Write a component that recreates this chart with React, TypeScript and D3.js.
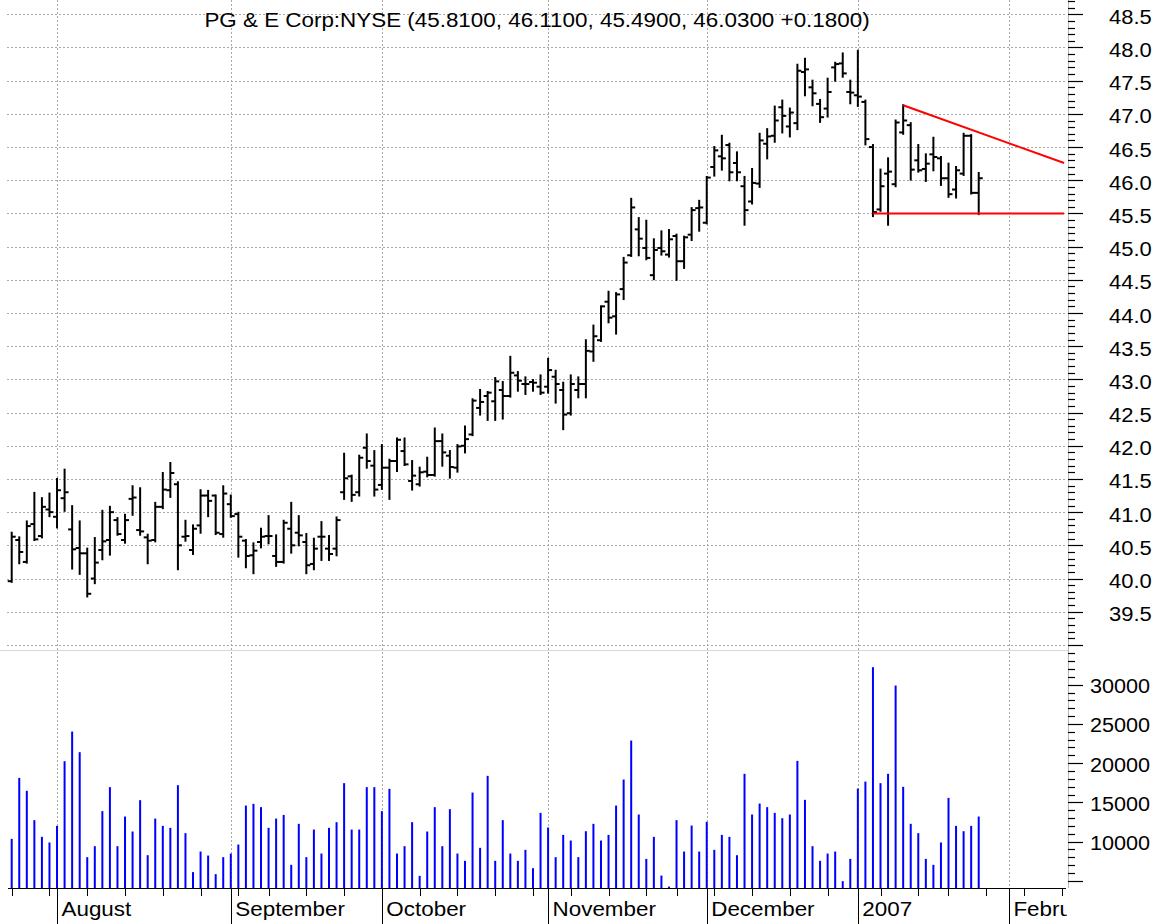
import React, { useEffect, useRef } from "react";
import * as d3 from "d3";

const dates = [
  "2006-07-24","2006-07-25","2006-07-26","2006-07-27","2006-07-28","2006-07-31",
  "2006-08-01","2006-08-02","2006-08-03","2006-08-04","2006-08-07","2006-08-08","2006-08-09","2006-08-10","2006-08-11",
  "2006-08-14","2006-08-15","2006-08-16","2006-08-17","2006-08-18","2006-08-21","2006-08-22","2006-08-23","2006-08-24",
  "2006-08-25","2006-08-28","2006-08-29","2006-08-30","2006-08-31",
  "2006-09-01","2006-09-05","2006-09-06","2006-09-07","2006-09-08","2006-09-11","2006-09-12","2006-09-13","2006-09-14",
  "2006-09-15","2006-09-18","2006-09-19","2006-09-20","2006-09-21","2006-09-22","2006-09-25","2006-09-26","2006-09-27",
  "2006-09-28","2006-09-29",
  "2006-10-02","2006-10-03","2006-10-04","2006-10-05","2006-10-06","2006-10-09","2006-10-10","2006-10-11","2006-10-12",
  "2006-10-13","2006-10-16","2006-10-17","2006-10-18","2006-10-19","2006-10-20","2006-10-23","2006-10-24","2006-10-25",
  "2006-10-26","2006-10-27","2006-10-30","2006-10-31",
  "2006-11-01","2006-11-02","2006-11-03","2006-11-06","2006-11-07","2006-11-08","2006-11-09","2006-11-10","2006-11-13",
  "2006-11-14","2006-11-15","2006-11-16","2006-11-17","2006-11-20","2006-11-21","2006-11-22","2006-11-24","2006-11-27",
  "2006-11-28","2006-11-29","2006-11-30",
  "2006-12-01","2006-12-04","2006-12-05","2006-12-06","2006-12-07","2006-12-08","2006-12-11","2006-12-12","2006-12-13",
  "2006-12-14","2006-12-15","2006-12-18","2006-12-19","2006-12-20","2006-12-21","2006-12-22","2006-12-26","2006-12-27",
  "2006-12-28","2006-12-29",
  "2007-01-03","2007-01-04","2007-01-05","2007-01-08","2007-01-09","2007-01-10","2007-01-11","2007-01-12","2007-01-16",
  "2007-01-17","2007-01-18","2007-01-19","2007-01-22","2007-01-23","2007-01-24","2007-01-25","2007-01-26"
];

const futureDates = [
  "2007-01-29","2007-01-30","2007-01-31","2007-02-01","2007-02-02","2007-02-05","2007-02-06","2007-02-07",
  "2007-02-08","2007-02-09","2007-02-12"
];

const open = [
  39.96,40.58,40.25,40.82,40.64,41.04,40.93,41.21,40.74,40.46,40.38,40.00,40.43,40.58,40.88,40.58,41.20,40.73,40.62,40.58,
  41.08,41.33,41.42,40.63,40.43,40.80,41.25,41.25,40.67,41.12,40.97,40.57,40.35,40.55,40.64,40.34,40.25,40.75,40.69,40.55,
  40.22,40.63,40.45,40.45,41.30,41.54,41.30,41.97,41.70,41.41,41.67,41.77,41.92,41.47,41.42,41.61,41.56,42.07,41.85,41.67,
  42.00,42.17,42.57,42.75,42.67,42.84,42.75,43.06,42.93,42.96,42.89,42.89,43.04,42.84,42.49,42.84,42.93,43.42,43.59,44.17,
  43.95,44.36,44.87,45.26,44.98,44.57,44.98,44.88,45.16,44.78,45.18,45.58,45.36,46.20,46.36,46.53,46.26,45.91,45.68,45.95,
  46.55,46.67,47.10,46.81,46.86,47.63,47.40,47.15,47.08,47.70,47.76,47.33,47.28,47.18,46.50,45.56,46.10,45.94,46.72,46.83,
  46.30,46.17,46.39,46.33,46.03,45.86,46.10,46.67,45.81
];
const high = [
  40.69,40.62,40.86,41.29,41.21,41.28,41.50,41.64,41.09,40.86,40.45,40.61,41.02,41.08,40.91,40.96,41.39,41.36,40.66,41.14,
  41.59,41.74,41.45,40.87,40.80,41.33,41.32,41.25,41.39,41.25,40.99,40.58,40.53,40.75,40.94,40.65,40.87,41.14,40.94,40.67,
  40.60,40.85,40.64,40.92,41.88,41.55,41.85,42.17,41.92,42.01,41.79,42.11,42.11,41.77,41.67,41.82,42.26,42.17,41.92,42.01,
  42.29,42.70,42.84,42.81,43.02,42.96,43.34,43.11,43.03,42.99,43.06,43.31,43.13,42.95,43.06,43.03,43.59,43.81,44.10,44.32,
  44.30,44.83,45.72,45.43,45.39,45.11,45.23,45.25,45.18,45.15,45.58,45.69,46.05,46.50,46.67,46.55,46.42,46.05,46.17,46.70,
  46.77,47.11,47.20,47.08,47.74,47.83,47.50,47.21,47.53,47.77,47.91,47.50,47.95,47.20,46.53,46.16,46.33,46.90,47.13,46.86,
  46.53,46.39,46.64,46.35,46.25,46.20,46.70,46.68,46.11
];
const low = [
  39.95,40.23,40.24,40.58,40.62,40.94,40.77,41.02,40.15,40.07,39.73,39.93,40.29,40.36,40.66,40.54,40.96,40.66,40.23,40.56,
  41.06,41.23,40.14,40.57,40.37,40.69,40.94,40.67,40.63,40.93,40.33,40.17,40.08,40.47,40.53,40.19,40.24,40.39,40.50,40.08,
  40.14,40.28,40.28,40.35,41.20,41.17,41.25,41.67,41.25,41.35,41.20,41.62,41.71,41.34,41.40,41.54,41.55,41.70,41.52,41.61,
  41.90,42.16,42.47,42.39,42.39,42.41,42.74,42.83,42.78,42.83,42.78,42.80,42.65,42.25,42.47,42.73,42.73,43.28,43.58,43.86,
  43.69,44.21,44.86,44.87,44.81,44.51,44.88,44.85,44.50,44.68,45.10,45.24,45.35,46.07,46.16,46.00,46.00,45.33,45.65,45.90,
  46.33,46.58,46.72,46.66,46.77,47.28,47.13,46.88,46.96,47.50,47.56,47.16,47.12,46.54,45.46,45.54,45.33,45.91,46.70,46.01,
  46.13,45.99,46.15,45.93,45.75,45.74,46.08,45.80,45.49
];
const close = [
  40.63,40.40,40.79,40.59,41.08,41.00,41.33,41.30,40.44,40.38,39.77,40.24,40.56,41.00,40.67,40.88,41.22,40.71,40.57,41.08,
  41.34,41.59,40.50,40.64,40.75,41.25,41.17,40.69,41.28,40.94,40.63,40.34,40.42,40.63,40.64,40.25,40.84,40.50,40.65,40.20,
  40.45,40.63,40.37,40.88,41.51,41.26,41.82,41.77,41.34,41.67,41.77,42.09,41.72,41.55,41.60,41.56,42.07,41.90,41.68,41.99,
  42.10,42.68,42.66,42.80,42.97,42.75,43.10,42.98,42.93,42.95,42.80,43.14,42.93,42.47,42.93,42.93,43.43,43.65,44.10,43.93,
  44.28,44.76,45.59,45.12,44.83,44.95,44.93,45.11,44.78,45.14,45.55,45.59,46.04,46.45,46.33,46.12,46.12,45.55,45.96,46.60,
  46.66,46.90,46.97,47.02,47.65,47.67,47.31,46.95,47.33,47.75,47.61,47.32,47.26,46.62,45.52,45.91,46.13,46.87,46.90,46.16,
  46.15,46.25,46.35,46.03,45.79,46.15,46.67,45.81,46.03
];
const volume = [
  10345,18125,16470,12730,10600,9880,12000,20250,24030,21400,8010,9410,13880,16940,9410,13190,11280,15280,8260,12930,
  12000,11750,17190,11070,6100,8725,8215,5840,8010,8470,9620,14590,14810,14390,11750,12930,13400,7030,12260,8010,
  11530,8470,11750,12470,17450,11530,11530,16940,16940,13880,16720,8470,9410,12470,5625,11280,14390,9410,14130,8470,
  7540,16250,9200,18380,7540,12730,8470,7540,8940,6600,13660,11790,8010,10850,10130,8010,11320,12260,10130,10850,
  14590,17910,22880,13450,7790,10600,5660,4260,12730,8725,12040,8725,12520,8940,10850,10600,8260,18640,13450,14850,
  14390,13660,12980,13450,20290,15320,9410,7540,8470,8725,4950,7790,16760,17650,32240,17450,18640,29900,16980,12260,
  11070,7790,7030,9880,15570,12000,11320,12000,13190
];

const monthLabels = ["August", "September", "October", "November", "December", "2007", "February"];
const priceMajorTicks = [39.0,39.5,40.0,40.5,41.0,41.5,42.0,42.5,43.0,43.5,44.0,44.5,45.0,45.5,46.0,46.5,47.0,47.5,48.0,48.5];
const priceLabelTicks = [39.5,40.0,40.5,41.0,41.5,42.0,42.5,43.0,43.5,44.0,44.5,45.0,45.5,46.0,46.5,47.0,47.5,48.0,48.5];
const volumeLabelTicks = [10000,15000,20000,25000,30000];
const titleText = "PG & E Corp:NYSE (45.8100, 46.1100, 45.4900, 46.0300 +0.1800)";
// trend lines: [index, price]
const resistanceLine = [[118, 47.13], [139.3, 46.26]];
const supportLine = [[114, 45.5], [139.3, 45.5]];

const W = 1166;
const H = 924;
const FONT = "'Liberation Sans', Arial, Helvetica, sans-serif";

export default function App() {
  const ref = useRef<SVGSVGElement>(null);

  useEffect(() => {
    const svg = d3.select(ref.current);
    svg.selectAll("*").remove();

    const x = d3.scaleLinear().domain([0, 139.5]).range([11.7, 1065.6]);
    const yP = d3.scaleLinear().domain([39, 48.5]).range([644.9, 14.3]);
    const yV = d3.scaleLinear().domain([4000, 34000]).range([888.6, 653.4]);
    const axisX = 1068;
    const baseY = 888;
    const plotLeft = 7;
    const plotRight = 1066;

    const allDates = dates.concat(futureDates).map((s) => new Date(s + "T12:00:00"));
    const monthStarts: number[] = [];
    const weekStarts: number[] = [];
    allDates.forEach((d, i) => {
      if (i === 0 || d.getDay() < allDates[i - 1].getDay()) weekStarts.push(i);
      if (i > 0 && d.getMonth() !== allDates[i - 1].getMonth()) monthStarts.push(i);
    });

    const defs = svg.append("defs");
    defs.append("clipPath").attr("id", "plotclip")
      .append("rect").attr("x", 0).attr("y", 0).attr("width", axisX - 1).attr("height", H);

    const stretch = (sel: any, f: number) => {
      sel.each(function (this: SVGTextElement) {
        const w = this.getComputedTextLength();
        d3.select(this).attr("textLength", w * f).attr("lengthAdjust", "spacingAndGlyphs");
      });
    };

    // horizontal price gridlines
    svg.append("g").selectAll("line").data(priceMajorTicks).join("line")
      .attr("x1", plotLeft).attr("x2", plotRight)
      .attr("y1", (d) => Math.round(yP(d)) + 0.5).attr("y2", (d) => Math.round(yP(d)) + 0.5)
      .attr("stroke", "#a8a8a8").attr("stroke-width", 1).attr("stroke-dasharray", "2,2");

    // vertical month gridlines
    svg.append("g").selectAll("line").data(monthStarts).join("line")
      .attr("x1", (d) => Math.round(x(d)) + 0.5).attr("x2", (d) => Math.round(x(d)) + 0.5)
      .attr("y1", 0).attr("y2", baseY)
      .attr("stroke", "#a8a8a8").attr("stroke-width", 1).attr("stroke-dasharray", "2,2");

    // panel separator
    svg.append("line").attr("x1", 0).attr("x2", axisX).attr("y1", 650.5).attr("y2", 650.5)
      .attr("stroke", "#d8d8d8").attr("stroke-width", 1);

    // right axis line
    svg.append("line").attr("x1", axisX + 0.5).attr("x2", axisX + 0.5).attr("y1", 0).attr("y2", baseY)
      .attr("stroke", "#b8b8b8").attr("stroke-width", 1);

    // price axis ticks
    const minorP = d3.range(390, 488).map((v) => v / 10);
    svg.append("g").selectAll("line").data(minorP).join("line")
      .attr("x1", axisX).attr("x2", (d) => (Math.abs(d * 2 - Math.round(d * 2)) < 1e-6 ? axisX + 15 : axisX + 7))
      .attr("y1", (d) => Math.round(yP(d)) + 0.5).attr("y2", (d) => Math.round(yP(d)) + 0.5)
      .attr("stroke", "#000").attr("stroke-width", 1.2);

    const pl = svg.append("g").selectAll("text").data(priceLabelTicks).join("text")
      .attr("x", 1109).attr("y", (d) => yP(d) + 9.5)
      .attr("font-family", FONT).attr("font-size", 20).attr("fill", "#000")
      .text((d) => d.toFixed(1));
    stretch(pl, 1.1);

    // volume axis ticks
    const minorV = d3.range(5000, 34001, 1000);
    svg.append("g").selectAll("line").data(minorV).join("line")
      .attr("x1", axisX).attr("x2", (d) => (d % 5000 === 0 ? axisX + 15 : axisX + 7))
      .attr("y1", (d) => Math.round(yV(d)) + 0.5).attr("y2", (d) => Math.round(yV(d)) + 0.5)
      .attr("stroke", "#000").attr("stroke-width", 1.2);

    const vl = svg.append("g").selectAll("text").data(volumeLabelTicks).join("text")
      .attr("x", 1090).attr("y", (d) => yV(d) + 8.5)
      .attr("font-family", FONT).attr("font-size", 20).attr("fill", "#000")
      .text((d) => String(d));
    stretch(vl, 1.08);

    // volume bars
    svg.append("g").selectAll("rect").data(volume).join("rect")
      .attr("x", (_d, i) => x(i) - 1).attr("width", 2)
      .attr("y", (d) => yV(d)).attr("height", (d) => baseY - yV(d))
      .attr("fill", "#0000ff");

    // OHLC bars
    const bars = svg.append("g").attr("stroke", "#000").attr("stroke-width", 2);
    dates.forEach((_d, i) => {
      const cx = x(i);
      bars.append("line").attr("x1", cx).attr("x2", cx).attr("y1", yP(high[i]) - 1).attr("y2", yP(low[i]) + 1);
      bars.append("line").attr("x1", cx - 4).attr("x2", cx).attr("y1", yP(open[i])).attr("y2", yP(open[i]));
      bars.append("line").attr("x1", cx).attr("x2", cx + 4).attr("y1", yP(close[i])).attr("y2", yP(close[i]));
    });

    // red trend lines
    const line = d3.line<number[]>().x((d) => x(d[0])).y((d) => yP(d[1]));
    [resistanceLine, supportLine].forEach((ln) => {
      svg.append("path").attr("d", line(ln as any) as string)
        .attr("fill", "none").attr("stroke", "#ff0000").attr("stroke-width", 2);
    });

    // x axis
    svg.append("line").attr("x1", 8).attr("x2", plotRight).attr("y1", baseY + 0.5).attr("y2", baseY + 0.5)
      .attr("stroke", "#000").attr("stroke-width", 1);
    svg.append("g").selectAll("line").data(weekStarts.filter((i) => x(i) <= plotRight + 1)).join("line")
      .attr("x1", (d) => Math.round(x(d)) + 0.5).attr("x2", (d) => Math.round(x(d)) + 0.5)
      .attr("y1", baseY).attr("y2", baseY + 8)
      .attr("stroke", "#000").attr("stroke-width", 1);
    svg.append("g").selectAll("line").data(monthStarts).join("line")
      .attr("x1", (d) => Math.round(x(d)) + 0.5).attr("x2", (d) => Math.round(x(d)) + 0.5)
      .attr("y1", baseY).attr("y2", H)
      .attr("stroke", "#000").attr("stroke-width", 1);

    const ml = svg.append("g").attr("clip-path", "url(#plotclip)").selectAll("text").data(monthStarts).join("text")
      .attr("x", (d) => x(d) + 4.5).attr("y", 916)
      .attr("font-family", FONT).attr("font-size", 20).attr("fill", "#000")
      .text((_d, i) => monthLabels[i]);
    stretch(ml, 1.12);

    // title
    const t = svg.append("text").attr("x", 537).attr("y", 27).attr("text-anchor", "middle")
      .attr("font-family", FONT).attr("font-size", 20).attr("fill", "#000").text(titleText);
    stretch(t, 1.12);
  }, []);

  return (
    <svg
      ref={ref}
      width={W}
      height={H}
      style={{ position: "absolute", left: 0, top: 0, background: "#fff" }}
    />
  );
}
